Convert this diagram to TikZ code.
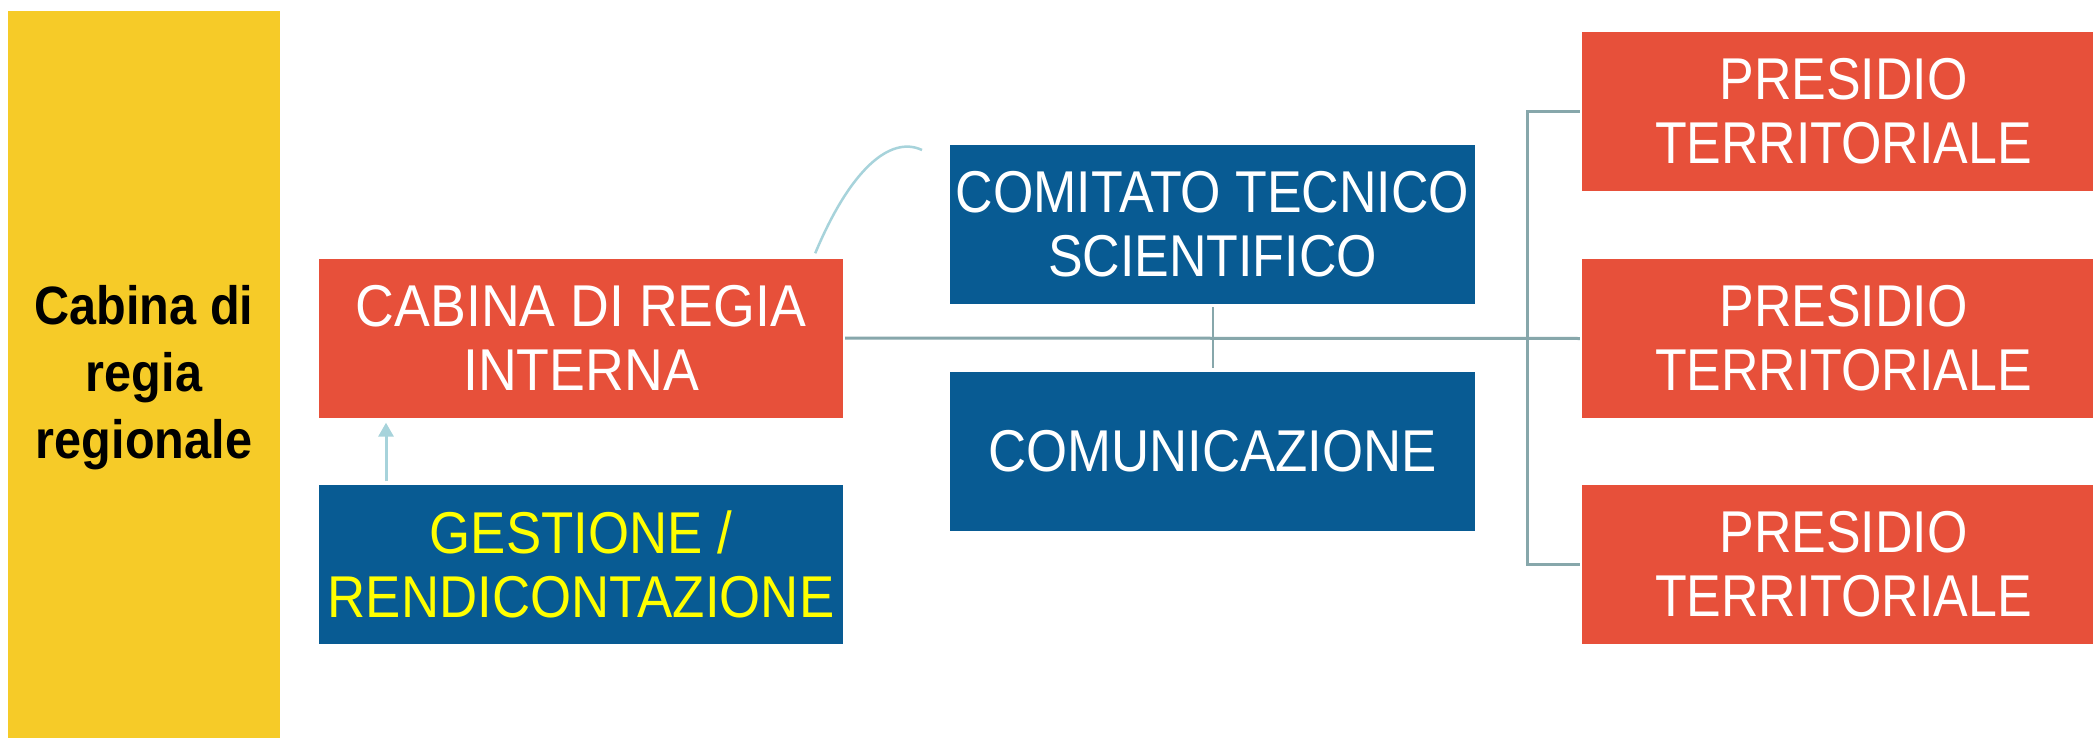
\documentclass[tikz,border=0pt]{standalone}
\usepackage{fontspec}
\setmainfont{Liberation Sans}
\newfontfamily\boxfont[FakeStretch=0.88]{Liberation Sans}
\newfontfamily\boxfontb[FakeStretch=0.895]{Liberation Sans}
\newfontfamily\boxfontc[FakeStretch=0.91]{Liberation Sans}
\newfontfamily\sidefont[FakeStretch=0.9]{Liberation Sans}
\usetikzlibrary{arrows.meta}
\definecolor{cred}{HTML}{E7503A}
\definecolor{cblue}{HTML}{085B93}
\definecolor{cyel}{HTML}{F6CB28}
\definecolor{cline}{HTML}{87A7AB}
\definecolor{clight}{HTML}{A7D3DB}
\definecolor{ctxt}{HTML}{FFFF00}
\begin{document}
\begin{tikzpicture}[x=1pt,y=-1pt,
  box/.style={rectangle, inner sep=0pt, minimum width=524pt, minimum height=159pt,
    align=center, text=white, font=\boxfont\fontsize{59}{64}\selectfont},
  redbox/.style={box, fill=cred},
  bluebox/.style={box, fill=cblue},
  presbox/.style={redbox, minimum width=523pt},
  conn/.style={draw=cline, line width=3pt},
  thinconn/.style={draw=cline, line width=2pt},
  lightconn/.style={draw=clight, line width=2.5pt}]
\useasboundingbox (0,0) rectangle (2093,738);
\fill[white] (0,0) rectangle (2093,738);

\node[rectangle, fill=cyel, inner sep=0pt, minimum width=272pt, minimum height=734pt,
  align=center, font=\sidefont\bfseries\fontsize{54}{67}\selectfont] (side) at (144,378)
  {Cabina di\\regia\\regionale};

\node[redbox, font=\boxfontc\fontsize{59}{64}\selectfont] (cab) at (581,338) {CABINA DI REGIA\\INTERNA};
\node[bluebox, text=ctxt, font=\boxfontb\fontsize{59}{64}\selectfont] (gest) at (581,564) {GESTIONE /\\RENDICONTAZIONE};
\node[bluebox, minimum width=525pt] (com) at (1212.5,224.5) {COMITATO TECNICO\\SCIENTIFICO};
\node[bluebox, minimum width=525pt, font=\boxfontb\fontsize{59}{64}\selectfont] (comu) at (1212.5,451) {COMUNICAZIONE};

\node[presbox] (p1) at (1843.5,111.5) {PRESIDIO\\TERRITORIALE};
\node[presbox] (p2) at (1843.5,338.5) {PRESIDIO\\TERRITORIALE};
\node[presbox] (p3) at (1843.5,564.5) {PRESIDIO\\TERRITORIALE};

% connectors
\draw[conn] ([xshift=2pt]cab.east) -- ([xshift=-2pt]p2.west);
\draw[conn] ([xshift=-2pt]p1.west) -- ++(-52,0) |- ([xshift=-2pt]p3.west);
\draw[thinconn] ([yshift=-3pt]com.south) -- ([yshift=3pt]comu.north);
\draw[lightconn, line width=3pt, -{Triangle[length=14pt,width=15pt]}] ([xshift=-195pt,yshift=3pt]gest.north) -- ([xshift=-195pt,yshift=-5pt]cab.south);
\coordinate (cs) at ([xshift=-28pt,yshift=5pt]cab.north east);
\coordinate (ce) at (922,150);
\draw[lightconn] (cs) .. controls (850,170) and (890,135) .. (ce);
\end{tikzpicture}
\end{document}
